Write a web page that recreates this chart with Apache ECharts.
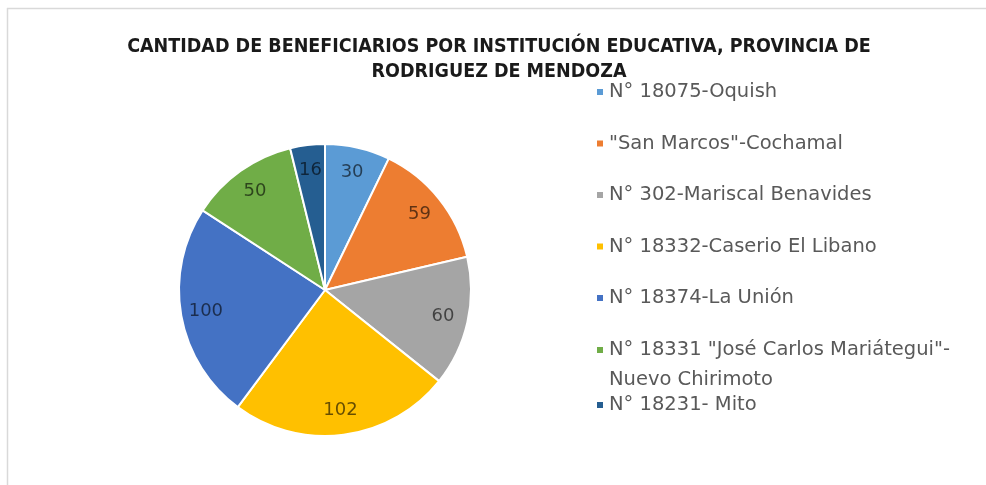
<!DOCTYPE html>
<html>
<head>
<meta charset="utf-8">
<script src="https://cdn.jsdelivr.net/npm/echarts@6/dist/echarts.min.js"></script>
<style>
  html, body { margin: 0; padding: 0; background: #fff; }
  #chart { width: 986px; height: 485px; }
</style>
</head>
<body>
<div id="chart"></div>
<script>
var names = [
  'N° 18075-Oquish',
  '"San Marcos"-Cochamal',
  'N° 302-Mariscal Benavides',
  'N° 18332-Caserio El Libano',
  'N° 18374-La Unión',
  'N° 18331 "José Carlos Mariátegui"-\nNuevo Chirimoto',
  'N° 18231- Mito'
];
var values = [30, 59, 60, 102, 100, 50, 16];
var colors = ['#5B9BD5', '#ED7D31', '#A5A5A5', '#FFC000', '#4472C4', '#70AD47', '#255E91'];

var pieData = names.map(function (n, i) {
  return { name: n, value: values[i], itemStyle: { color: colors[i] } };
});

var legendFont = { fontFamily: 'DejaVu Sans', fontSize: 19.5, color: '#595959', lineHeight: 30 };

var myChart = echarts.init(document.getElementById('chart'));

var option = {
  backgroundColor: '#fff',
  animation: false,
  title: {
    text: 'CANTIDAD DE BENEFICIARIOS POR INSTITUCIÓN EDUCATIVA, PROVINCIA DE\nRODRIGUEZ DE MENDOZA',
    left: 499,
    top: 34,
    padding: 0,
    textAlign: 'center',
    textStyle: {
      fontFamily: '"DejaVu Sans Condensed", "Liberation Sans", sans-serif',
      fontWeight: 'bold',
      fontSize: 19.5,
      lineHeight: 25,
      color: '#1a1a1a'
    }
  },
  legend: [
    {
      orient: 'vertical', left: 595, top: 77, padding: 0,
      itemWidth: 8, itemHeight: 8, itemGap: 21.5, icon: 'rect',
      textStyle: legendFont,
      data: names.slice(0, 5)
    },
    {
      // empty first line keeps the wrapped label's first row next to its marker
      orient: 'vertical', left: 595, top: 305, padding: 0,
      itemWidth: 8, itemHeight: 8, icon: 'rect',
      textStyle: legendFont,
      formatter: function (n) { return '\n' + n; },
      data: [names[5]]
    },
    {
      orient: 'vertical', left: 595, top: 390, padding: 0,
      itemWidth: 8, itemHeight: 8, icon: 'rect',
      textStyle: legendFont,
      data: [names[6]]
    }
  ],
  graphic: [
    { type: 'line', shape: { x1: 7, y1: 8.5, x2: 986, y2: 8.5 }, style: { stroke: '#d9d9d9', lineWidth: 1.5 } },
    { type: 'line', shape: { x1: 7.5, y1: 8, x2: 7.5, y2: 485 }, style: { stroke: '#d9d9d9', lineWidth: 1.5 } }
  ],
  series: [
    {
      type: 'pie',
      center: [325, 290],
      radius: [0, 146],
      startAngle: 90,
      clockwise: true,
      label: { show: false },
      labelLine: { show: false },
      itemStyle: { borderColor: '#fff', borderWidth: 2 },
      emphasis: { disabled: true },
      data: pieData
    },
    {
      type: 'pie',
      center: [325, 290],
      radius: [90, 146],
      startAngle: 90,
      clockwise: true,
      silent: true,
      itemStyle: { color: 'rgba(0,0,0,0)' },
      label: {
        show: true,
        position: 'inside',
        formatter: '{c}',
        fontFamily: 'DejaVu Sans',
        fontSize: 18,
        color: 'rgba(0,0,0,0.6)'
      },
      labelLine: { show: false },
      emphasis: { disabled: true },
      data: names.map(function (n, i) { return { name: n, value: values[i] }; })
    }
  ]
};

option && myChart.setOption(option);
</script>
</body>
</html>
